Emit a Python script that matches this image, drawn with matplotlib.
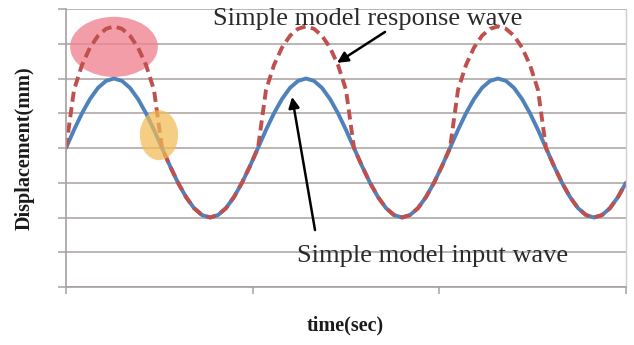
import numpy as np
import matplotlib
matplotlib.use("Agg")
import matplotlib.pyplot as plt
from matplotlib.patches import Ellipse

# displacement samples, one every 1/24 of a cycle, t = 0 .. 3 s
input_wave = [
    4.00, 4.52, 5.00, 5.41, 5.73, 5.93, 6.00, 5.93, 5.73, 5.41, 5.00, 4.52,
    4.00, 3.48, 3.00, 2.59, 2.27, 2.07, 2.00, 2.07, 2.27, 2.59, 3.00, 3.48,
    4.00, 4.52, 5.00, 5.41, 5.73, 5.93, 6.00, 5.93, 5.73, 5.41, 5.00, 4.52,
    4.00, 3.48, 3.00, 2.59, 2.27, 2.07, 2.00, 2.07, 2.27, 2.59, 3.00, 3.48,
    4.00, 4.52, 5.00, 5.41, 5.73, 5.93, 6.00, 5.93, 5.73, 5.41, 5.00, 4.52,
    4.00, 3.48, 3.00, 2.59, 2.27, 2.07, 2.00, 2.07, 2.27, 2.59, 3.00,
]
response_wave = [
    4.00, 5.67, 6.39, 6.89, 7.23, 7.43, 7.50, 7.43, 7.23, 6.89, 6.39, 5.67,
    4.00, 3.48, 3.00, 2.59, 2.27, 2.07, 2.00, 2.07, 2.27, 2.59, 3.00, 3.48,
    4.00, 5.67, 6.39, 6.89, 7.23, 7.43, 7.50, 7.43, 7.23, 6.89, 6.39, 5.67,
    4.00, 3.48, 3.00, 2.59, 2.27, 2.07, 2.00, 2.07, 2.27, 2.59, 3.00, 3.48,
    4.00, 5.67, 6.39, 6.89, 7.23, 7.43, 7.50, 7.43, 7.23, 6.89, 6.39, 5.67,
    4.00, 3.48, 3.00, 2.59, 2.27, 2.07, 2.00, 2.07, 2.27, 2.59, 3.00,
]
time_sec = np.linspace(0, 3, len(input_wave))

x_ticks = [0, 1, 2, 3]
y_ticks = [0, 1, 2, 3, 4, 5, 6, 7, 8]

plt.rcParams['font.family'] = ['Liberation Serif', 'DejaVu Serif']

GRID = '#a8a0a0'
BLUE = '#4f81bd'
RED = '#c0504d'


def main():
    fig = plt.figure(figsize=(6.34, 3.45), dpi=100)
    ax = fig.add_axes([66 / 634, 1 - 287 / 345, 560 / 634, 278 / 345])

    ax.plot(time_sec, input_wave, color=BLUE, lw=2.8, zorder=2, solid_capstyle='round')
    ax.plot(time_sec, response_wave, color=RED, lw=2.8, dashes=(2.6, 1.4), zorder=2.5)

    # highlight the amplified crest and the point where the waves part
    ax.add_patch(Ellipse((0.257, 6.91), 0.47, 1.73, facecolor='#ef8593', alpha=0.8,
                         edgecolor='none', zorder=1.5))
    ax.add_patch(Ellipse((0.498, 4.37), 0.205, 1.44, facecolor='#f2bc55', alpha=0.72,
                         edgecolor='none', zorder=3))

    ax.set_xlim(x_ticks[0], x_ticks[-1])
    ax.set_ylim(y_ticks[0], y_ticks[-1])
    ax.set_xticks(x_ticks)
    ax.set_yticks(y_ticks)
    ax.set_xticklabels([])
    ax.set_yticklabels([])
    ax.tick_params(axis='x', direction='out', length=5, width=1.1, color=GRID)
    ax.tick_params(axis='y', direction='out', length=6, width=1.1, color=GRID)
    ax.yaxis.grid(True, color=GRID, lw=1.1)
    ax.set_axisbelow(True)

    for side in ('left', 'bottom'):
        ax.spines[side].set_color(GRID)
        ax.spines[side].set_linewidth(1.2)
    ax.spines['right'].set_color('#d2cccc')
    ax.spines['right'].set_linewidth(1.0)
    ax.spines['top'].set_visible(False)

    ax.text(0.787, 7.54, "Simple model response wave", fontsize=19, color='#2a2a2a',
            va='baseline', ha='left', zorder=4)
    ax.text(1.2375, 0.72, "Simple model input wave", fontsize=19, color='#2a2a2a',
            va='baseline', ha='left', zorder=4)

    arrow = dict(arrowstyle='-|>', color='black', lw=1.8, mutation_scale=16,
                 shrinkA=0, shrinkB=0)
    ax.annotate('', xy=(1.452, 6.45), xytext=(1.709, 7.34), arrowprops=arrow, zorder=4)
    ax.annotate('', xy=(1.211, 5.47), xytext=(1.334, 1.64), arrowprops=arrow, zorder=4)

    fig.text(345 / 634, 1 - 325 / 345, "time(sec)", fontsize=14.5, fontweight='bold',
             ha='center', va='center', color='#1a1a1a')
    fig.text(25 / 634, 1 - 148 / 345, "Displacement(mm)", fontsize=14.5, fontweight='bold',
             rotation=90, ha='center', va='center', color='#1a1a1a')

    fig.savefig("out.png", dpi=100)


if __name__ == "__main__":
    main()
